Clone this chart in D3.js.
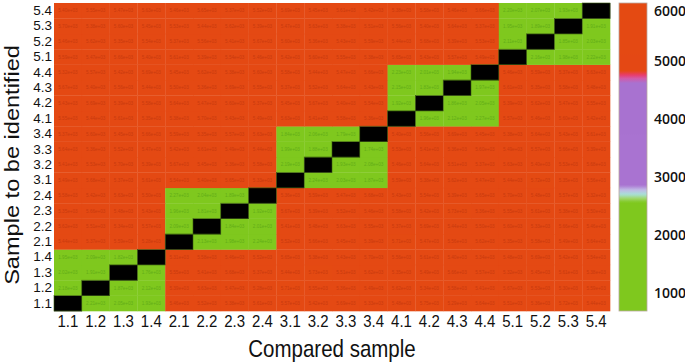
<!DOCTYPE html>
<html>
<head>
<meta charset="utf-8">
<script src="https://cdn.jsdelivr.net/npm/d3@7"></script>
<style>
  body { margin: 0; background: #fff; }
  svg { display: block; }
</style>
</head>
<body>
<div id="chart"></div>
<script>
var samples = ['1.1','1.2','1.3','1.4','2.1','2.2','2.3','2.4','3.1','3.2','3.3','3.4','4.1','4.2','4.3','4.4','5.1','5.2','5.3','5.4'];

// distance matrix, in thousands; rows = sample to be identified, cols = compared sample
var rows = [
  [0.00,2.21,2.05,1.93,5.46,5.52,5.38,5.61,5.57,5.42,5.69,5.33,5.48,5.75,5.29,5.64,5.51,5.36,5.72,5.44],
  [2.18,0.00,1.87,2.12,5.39,5.63,5.47,5.28,5.71,5.55,5.36,5.49,5.62,5.34,5.58,5.41,5.67,5.53,5.30,5.59],
  [2.02,1.91,0.00,1.76,5.55,5.41,5.68,5.37,5.44,5.73,5.51,5.62,5.35,5.49,5.66,5.57,5.32,5.45,5.61,5.38],
  [1.95,2.09,1.82,0.00,5.31,5.58,5.46,5.52,5.65,5.38,5.43,5.70,5.56,5.61,5.40,5.34,5.48,5.69,5.42,5.54],
  [5.44,5.37,5.59,5.28,0.00,2.13,1.98,2.24,5.52,5.66,5.45,5.39,5.71,5.47,5.56,5.62,5.35,5.58,5.49,5.64],
  [5.62,5.51,5.34,5.57,2.09,0.00,1.84,2.01,5.41,5.48,5.63,5.55,5.37,5.69,5.44,5.50,5.60,5.33,5.66,5.46],
  [5.35,5.66,5.48,5.43,1.96,1.81,0.00,1.92,5.67,5.39,5.52,5.46,5.58,5.42,5.73,5.36,5.55,5.61,5.38,5.50],
  [5.58,5.42,5.63,5.50,2.27,2.04,1.89,0.00,5.36,5.59,5.47,5.68,5.43,5.54,5.39,5.65,5.70,5.48,5.57,5.32],
  [5.49,5.68,5.37,5.61,5.54,5.40,5.65,5.33,0.00,2.24,2.03,1.87,5.59,5.38,5.62,5.47,5.44,5.72,5.35,5.56],
  [5.41,5.53,5.70,5.39,5.67,5.45,5.36,5.58,2.19,0.00,1.93,2.08,5.46,5.64,5.51,5.37,5.63,5.40,5.53,5.68],
  [5.64,5.36,5.52,5.47,5.42,5.61,5.49,5.44,1.99,1.88,0.00,1.74,5.53,5.41,5.36,5.60,5.49,5.57,5.66,5.39],
  [5.37,5.60,5.45,5.66,5.59,5.35,5.57,5.63,1.84,2.06,1.79,0.00,5.40,5.56,5.69,5.45,5.38,5.64,5.43,5.61],
  [5.55,5.44,5.61,5.35,5.38,5.70,5.43,5.49,5.63,5.41,5.58,5.36,0.00,1.96,2.12,2.27,5.57,5.46,5.60,5.42],
  [5.43,5.69,5.39,5.58,5.64,5.47,5.60,5.37,5.45,5.67,5.40,5.54,1.92,0.00,1.86,2.05,5.39,5.62,5.47,5.55],
  [5.67,5.40,5.56,5.44,5.50,5.36,5.69,5.55,5.37,5.52,5.64,5.43,2.15,1.83,0.00,1.97,5.61,5.35,5.58,5.48],
  [5.32,5.57,5.42,5.69,5.45,5.62,5.38,5.60,5.58,5.44,5.47,5.66,2.23,2.01,1.94,0.00,5.46,5.59,5.37,5.63],
  [5.59,5.47,5.66,5.40,5.61,5.39,5.54,5.46,5.42,5.60,5.55,5.38,5.65,5.43,5.57,5.49,0.00,2.16,1.98,2.22],
  [5.46,5.62,5.35,5.54,5.37,5.56,5.41,5.67,5.60,5.36,5.43,5.59,5.44,5.68,5.39,5.53,2.11,0.00,1.85,2.03],
  [5.70,5.38,5.60,5.45,5.53,5.44,5.62,5.39,5.47,5.63,5.38,5.51,5.56,5.40,5.64,5.37,1.95,1.89,0.00,1.91],
  [5.40,5.55,5.47,5.63,5.46,5.65,5.37,5.52,5.69,5.45,5.61,5.42,5.38,5.58,5.46,5.66,2.20,2.07,1.93,0.00]
];

var colorTicks = [1000, 2000, 3000, 4000, 5000, 6000];
var colorDomain = [690, 6000];

var width = 685, height = 363;
var plot = { left: 54, right: 610, top: 3, bottom: 311 };
var bar = { left: 619, right: 647 };
var stretch = 1.15;   // the original figure is a bit taller than wide
var font = 'Liberation Sans, Arial, sans-serif';

var svg = d3.select('#chart').append('svg')
  .attr('width', width)
  .attr('height', height);

var x = d3.scaleBand().domain(samples).range([plot.left, plot.right]);
var y = d3.scaleBand().domain(samples).range([plot.bottom, plot.top]);

// custom map: flat green, a thin cyan band, flat purple, a pink band, flat red
var color = d3.scaleLinear()
  .domain([690, 2560, 2630, 2700, 2780, 2860, 4620, 4700, 4760, 4830, 6000])
  .range(['#7fc81e', '#7fc81e', '#9fd66c', '#a8e0d8', '#c0b8e6', '#a973d1', '#a872d0', '#d25aa8', '#e93c6a', '#e44814', '#e44a12'])
  .clamp(true);

var textColor = function(v) {
  return v > 4000 ? '#c93a0e' : '#62ad18';
};

var fmt = function(v) {
  var s = d3.format('.2e')(v);
  return s.replace(/e([+-])(\d)$/, 'e$10$2');
};

var cells = [];
rows.forEach(function(r, i) {
  r.forEach(function(v, j) {
    cells.push({ row: samples[i], col: samples[j], value: v * 1000 });
  });
});

var g = svg.append('g');

g.selectAll('rect')
  .data(cells)
  .enter().append('rect')
  .attr('x', d => x(d.col))
  .attr('y', d => y(d.row))
  .attr('width', x.bandwidth() + 0.3)
  .attr('height', y.bandwidth() + 0.3)
  .attr('fill', d => d.value < colorDomain[0] ? '#000' : color(d.value));

g.selectAll('text')
  .data(cells.filter(d => d.value >= colorDomain[0]))
  .enter().append('text')
  .attr('x', d => x(d.col) + x.bandwidth() / 2)
  .attr('y', d => y(d.row) + y.bandwidth() / 2 + 1.6)
  .attr('text-anchor', 'middle')
  .style('font-family', font)
  .style('font-size', '4.6px')
  .attr('fill', d => textColor(d.value))
  .text(d => fmt(d.value));

// outline of the diagonal cells
g.selectAll('rect.diag')
  .data(cells.filter(d => d.value < colorDomain[0]))
  .enter().append('rect')
  .attr('class', 'diag')
  .attr('x', d => x(d.col))
  .attr('y', d => y(d.row))
  .attr('width', x.bandwidth())
  .attr('height', y.bandwidth())
  .attr('fill', 'none')
  .attr('stroke', '#3a5a10')
  .attr('stroke-width', 0.6);

// axes
var xAxis = svg.append('g')
  .attr('transform', 'translate(0,' + plot.bottom + ')')
  .call(d3.axisBottom(x).tickSize(0).tickPadding(3));
xAxis.select('.domain').remove();
xAxis.selectAll('text')
  .style('font-family', font)
  .style('font-size', '15px')
  .attr('transform', 'scale(1,' + stretch + ')')
  .attr('fill', '#111');

var yAxis = svg.append('g')
  .attr('transform', 'translate(' + plot.left + ',0)')
  .call(d3.axisLeft(y).tickSize(0).tickPadding(2));
yAxis.select('.domain').remove();
yAxis.selectAll('text')
  .style('font-family', font)
  .style('font-size', '13.5px')
  .attr('fill', '#111');

svg.append('text')
  .attr('transform', 'translate(' + ((plot.left + plot.right) / 2) + ',357) scale(1,' + stretch + ')')
  .attr('text-anchor', 'middle')
  .style('font-family', font)
  .style('font-size', '20.5px')
  .attr('fill', '#111')
  .text('Compared sample');

svg.append('text')
  .attr('transform', 'translate(19,' + ((plot.top + plot.bottom) / 2 + 8) + ') rotate(-90) scale(' + stretch + ',1)')
  .attr('text-anchor', 'middle')
  .style('font-family', font)
  .style('font-size', '20.5px')
  .attr('fill', '#111')
  .text('Sample to be identified');

// colorbar
var cy = d3.scaleLinear().domain(colorDomain).range([plot.bottom, plot.top]);

var defs = svg.append('defs');
var grad = defs.append('linearGradient')
  .attr('id', 'cbar')
  .attr('x1', 0).attr('y1', 1).attr('x2', 0).attr('y2', 0);
d3.range(0, 201).forEach(function(k) {
  var v = colorDomain[0] + (colorDomain[1] - colorDomain[0]) * k / 200;
  grad.append('stop')
    .attr('offset', (k / 2) + '%')
    .attr('stop-color', color(v));
});

svg.append('rect')
  .attr('x', bar.left)
  .attr('y', plot.top)
  .attr('width', bar.right - bar.left)
  .attr('height', plot.bottom - plot.top)
  .attr('fill', 'url(#cbar)')
  .attr('stroke', '#b9a9a0')
  .attr('stroke-width', 0.8);

var cAxis = svg.append('g')
  .attr('transform', 'translate(' + bar.right + ',0)')
  .call(d3.axisRight(cy).tickValues(colorTicks).tickSize(0).tickPadding(7).tickFormat(d3.format('d')));
cAxis.select('.domain').remove();
cAxis.selectAll('text')
  .style('font-family', 'Open Sans, Liberation Sans, sans-serif')
  .style('font-size', '14px')
  .style('font-weight', '600')
  .attr('fill', '#111')
  .attr('dy', d => d === 6000 ? '0.9em' : '0.32em');
</script>
</body>
</html>
